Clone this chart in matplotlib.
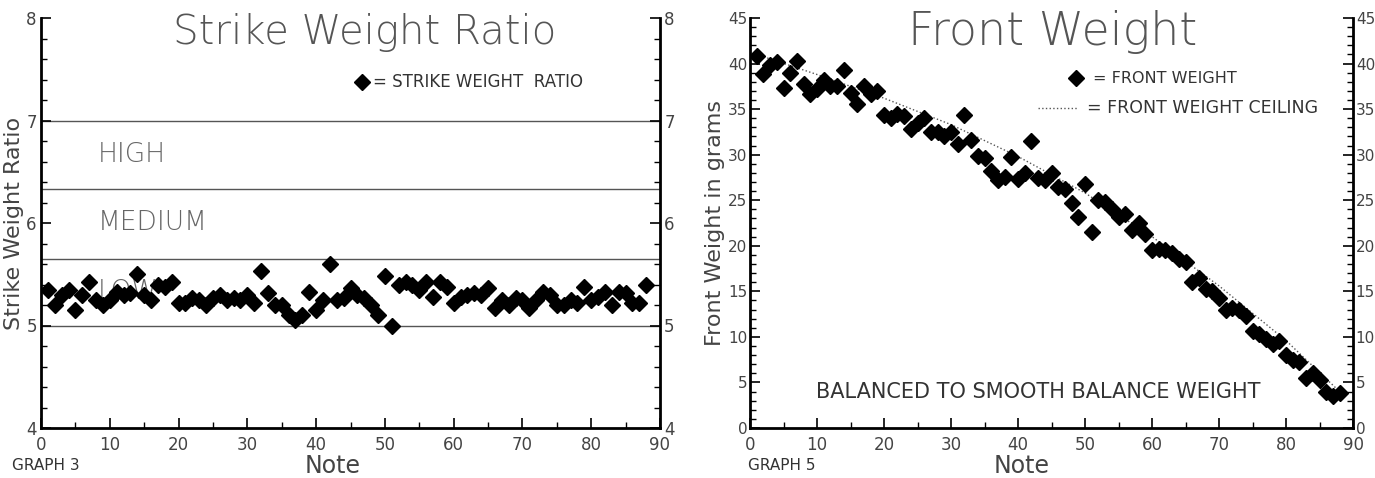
import matplotlib
matplotlib.use("Agg")
import matplotlib.pyplot as plt
from matplotlib.ticker import MultipleLocator
import numpy as np

notes = list(range(1, 89))

strike_ratio = [5.35, 5.20, 5.30, 5.35, 5.15, 5.30, 5.42, 5.25, 5.20, 5.25,
                5.33, 5.30, 5.32, 5.50, 5.30, 5.25, 5.40, 5.38, 5.42, 5.22,
                5.22, 5.27, 5.25, 5.20, 5.27, 5.30, 5.25, 5.27, 5.25, 5.30,
                5.22, 5.53, 5.32, 5.20, 5.20, 5.10, 5.05, 5.10, 5.33, 5.15,
                5.25, 5.60, 5.25, 5.27, 5.37, 5.30, 5.27, 5.20, 5.10, 5.48,
                5.00, 5.40, 5.42, 5.40, 5.35, 5.42, 5.28, 5.42, 5.38, 5.22,
                5.28, 5.30, 5.32, 5.30, 5.37, 5.17, 5.25, 5.20, 5.27, 5.25,
                5.17, 5.25, 5.33, 5.30, 5.20, 5.20, 5.25, 5.22, 5.38, 5.25,
                5.28, 5.33, 5.20, 5.33, 5.32, 5.22, 5.22, 5.40]

front_weight = [40.8, 38.8, 39.8, 40.2, 37.3, 39.0, 40.3, 37.8, 36.7, 37.2,
                38.2, 37.5, 37.5, 39.3, 36.8, 35.6, 37.5, 36.7, 37.0, 34.3,
                34.0, 34.5, 34.2, 32.8, 33.5, 34.0, 32.5, 32.5, 32.0, 32.5,
                31.2, 34.3, 31.6, 29.8, 29.6, 28.2, 27.2, 27.6, 29.7, 27.3,
                28.0, 31.5, 27.4, 27.2, 28.0, 26.5, 26.2, 24.7, 23.2, 26.8,
                21.5, 25.0, 24.8, 24.0, 23.2, 23.5, 21.7, 22.5, 21.3, 19.5,
                19.7, 19.5, 19.2, 18.5, 18.2, 16.0, 16.5, 15.3, 15.0, 14.3,
                13.0, 13.2, 13.0, 12.3, 10.7, 10.3, 9.8, 9.2, 9.5, 8.0,
                7.5, 7.2, 5.5, 6.0, 5.3, 4.0, 3.5, 3.8]

ceiling_notes = [1, 10, 20, 30, 40, 50, 60, 70, 80, 88]
ceiling_vals = [41.0, 38.8, 36.2, 33.3, 29.8, 25.8, 21.0, 15.6, 9.6, 4.0]

band_lines = [5.0, 5.65, 6.33, 7.0]
band_labels = ["HIGH", "MEDIUM", "LOW"]
band_label_y = [6.67, 6.0, 5.33]

W, H = 1375, 478
fig = plt.figure(figsize=(W / 100, H / 100), dpi=100)
plt.rcParams['font.family'] = ['DejaVu Sans']

def axes_px(x0, x1, ytop, ybot):
    return fig.add_axes([x0 / W, 1 - ybot / H, (x1 - x0) / W, (ybot - ytop) / H])

ax1 = axes_px(41, 660, 18, 428)
ax2 = axes_px(750, 1353, 18, 428)

lbl_color = '#444444'
txt_color = '#333333'

def style(ax, ymin, ymax, ymaj, ymin_step):
    ax.set_xlim(0, 90)
    ax.set_ylim(ymin, ymax)
    ax.spines['top'].set_visible(False)
    for s in ['left', 'right', 'bottom']:
        ax.spines[s].set_linewidth(2)
    ax.xaxis.set_major_locator(MultipleLocator(10))
    ax.xaxis.set_minor_locator(MultipleLocator(5))
    ax.yaxis.set_major_locator(MultipleLocator(ymaj))
    ax.yaxis.set_minor_locator(MultipleLocator(ymin_step))
    ax.tick_params(axis='both', which='both', direction='in', labelsize=12,
                   labelcolor=lbl_color, right=True, labelright=True, top=False)
    ax.tick_params(which='major', length=7, width=1.2)
    ax.tick_params(which='minor', length=4, width=1)
    ax.tick_params(axis='x', pad=6)
    ax.tick_params(axis='y', pad=3)

# Left chart
style(ax1, 4, 8, 1, 0.2)
for v in band_lines:
    ax1.axhline(v, color='#555555', lw=1.0, zorder=1)
for t, yv in zip(band_labels, band_label_y):
    ax1.text(8.2, yv, t, fontsize=19, color='#666666', va='center', ha='left',
             fontweight='light', zorder=2)
ax1.plot(notes, strike_ratio, 'D', color='black', ms=8.5, mec='black', zorder=3)
ax1.text(365 / W, 1 - 32 / H, "Strike Weight Ratio", transform=fig.transFigure,
         ha='center', va='center', fontsize=29, color='#555555', fontweight='light')
ax1.plot([46.7], [7.38], 'D', color='black', ms=8.5, clip_on=False)
ax1.text(48.3, 7.38, "= STRIKE WEIGHT  RATIO", fontsize=12, va='center', ha='left',
         color=txt_color)
ax1.set_ylabel("Strike Weight Ratio", fontsize=16, color=lbl_color, labelpad=2)
fig.text(12 / W, 1 - 466 / H, "GRAPH 3", fontsize=11, color=txt_color, va='center')
fig.text(333 / W, 1 - 466 / H, "Note", fontsize=17, color=lbl_color, va='center', ha='center')

# Right chart
style(ax2, 0, 45, 5, 1)
ax2.tick_params(axis='y', labelsize=11, pad=2)
ax2.plot(ceiling_notes, ceiling_vals, ':', color='#555555', lw=1.0, zorder=2)
ax2.plot(notes, front_weight, 'D', color='black', ms=8.5, zorder=3)
ax2.text(1053 / W, 1 - 32 / H, "Front Weight", transform=fig.transFigure,
         ha='center', va='center', fontsize=33, color='#555555', fontweight='light')
ax2.plot([48.7], [38.4], 'D', color='black', ms=8.5)
ax2.text(51.2, 38.4, "= FRONT WEIGHT", fontsize=11.5, va='center', ha='left', color=txt_color)
ax2.plot([43.0, 49.0], [35.1, 35.1], ':', color='#555555', lw=1.0)
ax2.text(50.3, 35.1, "= FRONT WEIGHT CEILING", fontsize=12.5, va='center', ha='left', color=txt_color)
ax2.text(43.0, 4.0, "BALANCED TO SMOOTH BALANCE WEIGHT", fontsize=15, va='center',
         ha='center', color=txt_color)
ax2.set_ylabel("Front Weight in grams", fontsize=16, color=lbl_color, labelpad=2)
fig.text(748 / W, 1 - 466 / H, "GRAPH 5", fontsize=11, color=txt_color, va='center')
fig.text(1022 / W, 1 - 466 / H, "Note", fontsize=17, color=lbl_color, va='center', ha='center')

fig.savefig("out.png", dpi=100)
